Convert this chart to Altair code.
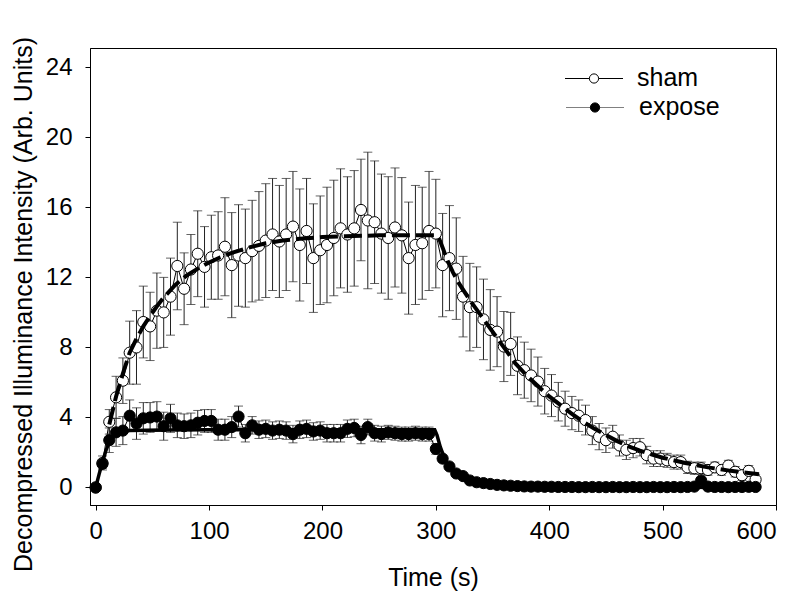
import altair as alt
import pandas as pd

# ---------------- data ----------------
times = list(range(0, 588, 6))  # sampling every 6 s, 0 .. 582

sham_mean = [
    0.0, 1.4, 3.75, 5.15, 6.1, 7.7, 8.0, 9.45, 9.2, 10.1,
    10.0, 10.9, 12.65, 11.35, 12.45, 13.35, 12.6, 13.15, 13.25, 13.75,
    12.7, 13.25, 13.1, 13.5, 13.8, 14.1, 14.45, 14.05, 14.45, 14.9,
    13.85, 14.65, 13.1, 13.55, 13.85, 14.25, 14.8, 14.45, 14.8, 15.85,
    15.25, 15.15, 14.5, 14.25, 14.85, 14.4, 13.1, 13.85, 13.95, 14.65,
    14.5, 12.7, 13.1, 12.5, 10.9, 10.3, 10.3, 9.6, 9.0, 8.9,
    8.05, 8.2, 6.95, 6.7, 6.4, 6.05, 5.5, 5.25, 4.9, 4.5,
    4.25, 4.1, 3.85, 3.25, 2.9, 2.7, 2.9, 2.4, 2.15, 2.25,
    2.3, 1.85, 1.65, 1.65, 1.55, 1.45, 1.45, 1.15, 1.1, 1.1,
    1.0, 1.15, 1.0, 1.25, 0.9, 0.7, 0.95, 0.45,
]
sham_err = [
    0.0, 0.4, 0.7, 1.2, 1.3, 1.8, 2.1, 2.05, 1.95, 2.15,
    2.0, 2.2, 2.5, 2.05, 2.0, 2.45, 2.3, 2.4, 2.5, 2.8,
    3.0, 2.9, 2.8, 2.9, 3.1, 3.25, 3.2, 3.2, 3.2, 3.15,
    3.2, 3.0, 3.1, 3.1, 3.3, 3.3, 3.4, 3.3, 3.3, 2.9,
    3.9, 3.5, 3.4, 3.5, 3.4, 3.3, 3.2, 3.4, 3.2, 3.4,
    3.1, 2.95, 3.0, 2.9, 2.3, 2.5, 2.3, 2.3, 2.3, 2.0,
    2.0, 1.8, 1.65, 1.6, 1.5, 1.4, 1.3, 1.2, 1.1, 1.0,
    0.95, 0.9, 0.85, 0.8, 0.75, 0.7, 0.65, 0.6, 0.55, 0.55,
    0.5, 0.5, 0.45, 0.45, 0.4, 0.4, 0.4, 0.35, 0.35, 0.35,
    0.3, 0.3, 0.3, 0.3, 0.3, 0.3, 0.3, 0.3,
]
expose_mean = [
    0.0, 1.35, 2.7, 3.15, 3.25, 4.1, 3.65, 3.95, 4.0, 4.05,
    3.5, 3.95, 3.55, 3.5, 3.55, 3.7, 3.8, 3.8, 3.3, 3.3,
    3.45, 4.05, 3.1, 3.55, 3.3, 3.35, 3.25, 3.3, 3.25, 3.05,
    3.3, 3.35, 3.2, 3.25, 3.1, 3.1, 3.1, 3.35, 3.4, 3.0,
    3.45, 3.1, 3.05, 3.15, 3.1, 3.05, 3.05, 3.1, 3.05, 3.05,
    2.2, 1.65, 1.2, 0.8, 0.65, 0.4, 0.3, 0.25, 0.2, 0.15,
    0.12, 0.1, 0.08, 0.06, 0.05, 0.05, 0.04, 0.04, 0.03, 0.03,
    0.03, 0.02, 0.02, 0.03, 0.02, 0.02, 0.03, 0.02, 0.02, 0.03,
    0.02, 0.02, 0.03, 0.02, 0.02, 0.03, 0.02, 0.03, 0.05, 0.4,
    0.05, 0.03, 0.03, 0.02, 0.03, 0.03, 0.04, 0.03,
]
expose_err = [
    0.0, 0.25, 0.7, 0.8, 0.8, 0.9, 0.9, 0.9, 0.85, 0.85,
    0.8, 0.8, 0.7, 0.7, 0.7, 0.7, 0.65, 0.65, 0.6, 0.6,
    0.6, 0.6, 0.5, 0.5, 0.5, 0.5, 0.5, 0.5, 0.5, 0.5,
    0.5, 0.5, 0.5, 0.5, 0.5, 0.5, 0.5, 0.5, 0.5, 0.5,
    0.45, 0.45, 0.45, 0.4, 0.4, 0.4, 0.4, 0.4, 0.4, 0.4,
    0.3, 0.2, 0.15, 0.1, 0.08, 0.06, 0.05, 0.05, 0.04, 0.04,
] + [0.03] * 38

fit_sham_t = [12, 18, 24, 30, 36, 42, 48, 54, 60, 70, 80, 90, 100, 110, 120, 135, 150,
              165, 180, 200, 220, 250, 280, 300, 303, 306, 310, 315, 320, 330, 340, 350,
              360, 370, 380, 390, 400, 410, 420, 430, 440, 450, 460, 470, 480, 490, 500,
              520, 540, 560, 585]
fit_sham_v = [3.6, 5.2, 6.5, 7.7, 8.5, 9.2, 9.8, 10.35, 10.85, 11.55, 12.1, 12.5, 12.85,
              13.15, 13.4, 13.7, 13.95, 14.1, 14.2, 14.3, 14.35, 14.4, 14.4, 14.4, 14.2,
              13.7, 13.0, 12.3, 11.7, 10.7, 9.8, 8.9, 8.0, 7.1, 6.4, 5.8, 5.2, 4.7, 4.2,
              3.75, 3.35, 3.0, 2.65, 2.35, 2.1, 1.9, 1.7, 1.4, 1.15, 0.95, 0.75]

fit_expose_t = [0, 3, 6, 9, 12, 15, 18, 24, 30, 60, 100, 200, 299, 301, 304, 308, 312,
                318, 324, 330, 340, 350, 360, 380, 420, 500, 585]
fit_expose_v = [0.0, 0.75, 1.45, 2.1, 2.6, 2.95, 3.1, 3.2, 3.25, 3.28, 3.3, 3.3, 3.3, 3.0,
                2.3, 1.6, 1.15, 0.75, 0.5, 0.35, 0.2, 0.12, 0.08, 0.04, 0.02, 0.01, 0.0]

series_names = ["sham", "expose"]
x_ticks = [0, 100, 200, 300, 400, 500, 600]
y_ticks = [0, 4, 8, 12, 16, 20, 24]

# ---------------- tables ----------------
df_s = pd.DataFrame({"t": times, "v": sham_mean, "e": sham_err})
df_s["lo"] = df_s["v"] - df_s["e"]
df_s["hi"] = df_s["v"] + df_s["e"]
df_e = pd.DataFrame({"t": times, "v": expose_mean, "e": expose_err})
df_e["lo"] = df_e["v"] - df_e["e"]
df_e["hi"] = df_e["v"] + df_e["e"]
df_fs = pd.DataFrame({"t": fit_sham_t, "v": fit_sham_v})
df_fe = pd.DataFrame({"t": fit_expose_t, "v": fit_expose_v})

FONT = "Liberation Sans"
xscale = alt.Scale(domain=[-5, 600], nice=False, zero=False)
yscale = alt.Scale(domain=[-1, 25.1], nice=False, zero=False)
xaxis = alt.Axis(values=x_ticks, title="Time (s)", grid=False, tickSize=5,
                 labelPadding=9, labelFontSize=24, titleFontSize=25,
                 titleY=80, titleBaseline="alphabetic", format="d")
yaxis = alt.Axis(values=y_ticks, title="Decompressed Illuminance Intensity (Arb. Units)",
                 grid=False, tickSize=5, labelPadding=13, labelFontSize=24,
                 titleFontSize=25, titleX=-59, titleY=256, titleBaseline="alphabetic",
                 format="d")


def X(field="t"):
    return alt.X(f"{field}:Q", scale=xscale, axis=xaxis)


def Y(field):
    return alt.Y(f"{field}:Q", scale=yscale, axis=yaxis)


BAR = "#222222"


def errlayers(df):
    base = alt.Chart(df)
    rule = base.mark_rule(color=BAR, strokeWidth=1).encode(x=X(), y=Y("lo"), y2="hi:Q")
    top = base.mark_tick(orient="horizontal", size=9, thickness=1, color=BAR).encode(x=X(), y=Y("hi"))
    bot = base.mark_tick(orient="horizontal", size=9, thickness=1, color=BAR).encode(x=X(), y=Y("lo"))
    return [rule, top, bot]


sham_line = alt.Chart(df_s).mark_line(color="black", strokeWidth=1).encode(x=X(), y=Y("v"))
sham_pts = alt.Chart(df_s).mark_point(shape="circle", filled=True, fill="white", stroke="black",
                                      strokeWidth=1, size=125, opacity=1).encode(x=X(), y=Y("v"))
exp_line = alt.Chart(df_e).mark_line(color="black", strokeWidth=1).encode(x=X(), y=Y("v"))
exp_pts = alt.Chart(df_e).mark_point(shape="circle", filled=True, fill="black", stroke="black",
                                     strokeWidth=1, size=125, opacity=1).encode(x=X(), y=Y("v"))
fit_s = alt.Chart(df_fs).mark_line(color="black", strokeWidth=4, strokeDash=[18, 6]).encode(
    x=X(), y=Y("v"))
fit_e = alt.Chart(df_fe).mark_line(color="black", strokeWidth=3.5).encode(x=X(), y=Y("v"))

# legend (inside plot, top right)
leg_s = pd.DataFrame({"label": [series_names[0]]})
leg_e = pd.DataFrame({"label": [series_names[1]]})
leg = [
    alt.Chart(leg_s).mark_rule(color="black", strokeWidth=1).encode(
        x=alt.value(475), x2=alt.value(533), y=alt.value(30.5)),
    alt.Chart(leg_s).mark_point(shape="circle", filled=True, fill="white", stroke="black",
                                strokeWidth=1, size=85, opacity=1).encode(
        x=alt.value(504), y=alt.value(30.5)),
    alt.Chart(leg_s).mark_text(align="left", baseline="middle", fontSize=25, font=FONT,
                               color="black").encode(
        x=alt.value(547), y=alt.value(30), text="label:N"),
    alt.Chart(leg_e).mark_rule(color="#808080", strokeWidth=1.2).encode(
        x=alt.value(476), x2=alt.value(534), y=alt.value(59.5)),
    alt.Chart(leg_e).mark_point(shape="circle", filled=True, fill="black", stroke="black",
                                strokeWidth=1, size=85, opacity=1).encode(
        x=alt.value(505), y=alt.value(59.5)),
    alt.Chart(leg_e).mark_text(align="left", baseline="middle", fontSize=25, font=FONT,
                               color="black").encode(
        x=alt.value(549), y=alt.value(59), text="label:N"),
]

layers = (errlayers(df_s) + [sham_line, sham_pts] + errlayers(df_e)
          + [exp_line, exp_pts, fit_s, fit_e] + leg)

chart = alt.layer(*layers).properties(
    width=686,
    height=457,
    autosize=alt.AutoSizeParams(type="none"),
    padding={"left": 82, "top": 40, "right": 14, "bottom": 92},
    background="white",
).configure_view(
    stroke="black", strokeWidth=1
).configure_axis(
    domainColor="black", tickColor="black", labelColor="black", titleColor="black",
    labelFont=FONT, titleFont=FONT, titleFontWeight="normal", domainWidth=1, tickWidth=1,
)

chart.save("out.html", embed_options={"renderer": "svg", "actions": False})
